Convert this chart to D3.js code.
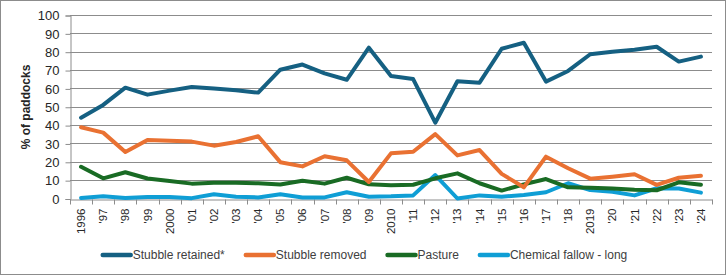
<!DOCTYPE html>
<html>
<head>
<meta charset="utf-8">
<script src="https://cdn.jsdelivr.net/npm/d3@7"></script>
<style>
  html, body { margin: 0; padding: 0; background: #fff; }
  svg { display: block; }
  text { font-family: "Liberation Sans", Arial, sans-serif; }
</style>
</head>
<body>
<svg id="chart" width="727" height="276"></svg>
<script>
const years = ["1996","'97","'98","'99","2000","'01","'02","'03","'04","'05","'06","'07","'08","'09","2010","'11","'12","'13","'14","'15","'16","'17","'18","2019","'20","'21","'22","'23","'24"];
const stubbleRetained = [44.0,51.0,60.4,56.6,58.8,60.8,60.0,59.0,57.7,70.2,73.0,68.2,64.7,82.2,66.8,65.1,41.3,63.9,63.1,81.6,84.9,63.7,69.5,78.6,80.0,81.1,82.7,74.6,77.3];
const stubbleRemoved = [38.8,35.9,25.3,31.9,31.5,31.0,28.8,30.8,33.9,19.8,17.5,23.0,20.8,9.0,24.6,25.5,35.1,23.5,26.4,13.4,6.1,22.8,16.5,10.8,11.9,13.2,7.4,11.3,12.4];
const pasture = [17.3,11.0,14.3,10.9,9.5,8.1,8.6,8.6,8.3,7.6,9.7,8.1,11.3,7.7,7.2,7.5,11.0,13.7,8.3,4.3,7.7,10.6,6.1,5.9,5.4,4.8,4.5,8.8,7.5];
const chemicalFallow = [0.3,1.2,0.3,0.8,0.8,0.2,2.3,1.0,0.6,2.3,0.6,0.6,3.4,1.0,1.2,1.7,12.8,0.0,1.7,1.0,1.9,3.4,8.3,4.6,3.7,1.7,5.6,5.4,3.2];
const yTicks = [0,10,20,30,40,50,60,70,80,90,100];
const seriesNames = ["Stubble retained*","Stubble removed","Pasture","Chemical fallow - long"];
const seriesColors = ["#156082","#E97132","#196B24","#0F9ED5"];
const seriesData = [stubbleRetained, stubbleRemoved, pasture, chemicalFallow];

(function () {
const svg = d3.select("#chart");
const pLeft = 70, pRight = 712, pTop = 15, pBottom = 198.5;

svg.append("rect").attr("x",0.5).attr("y",0.5).attr("width",725).attr("height",274)
  .attr("fill","#fff").attr("stroke","#8c8c8c").attr("stroke-width",1);

const x = d3.scaleBand().domain(years).range([pLeft, pRight]).padding(0);
const y = d3.scaleLinear().domain([0,100]).range([pBottom, pTop]);

// gridlines
svg.append("g").selectAll("line").data(yTicks.filter(d => d > 0)).join("line")
  .attr("x1", pLeft).attr("x2", pRight)
  .attr("y1", d => Math.round(y(d)) + 0.5).attr("y2", d => Math.round(y(d)) + 0.5)
  .attr("stroke", "#8c8c8c").attr("stroke-width", 1);

// y axis
const yAxis = d3.axisLeft(y).tickValues(yTicks).tickSize(5).tickPadding(6);
const gy = svg.append("g").attr("transform", `translate(${pLeft + 0.5},0.5)`).call(yAxis);
gy.select(".domain").attr("stroke", "#8c8c8c");
gy.selectAll(".tick line").attr("stroke", "#8c8c8c");
gy.selectAll(".tick text").attr("font-size", 13).attr("fill", "#262626")
  .attr("font-family", "Liberation Sans, Arial, sans-serif");

// x axis
const xAxis = d3.axisBottom(x).tickSize(0).tickPadding(0);
const gx = svg.append("g").attr("transform", `translate(0,${Math.round(pBottom)+0.5})`).call(xAxis);
gx.select(".domain").attr("stroke", "#8c8c8c");
gx.selectAll(".tick text")
  .attr("font-size", 11.5).attr("fill", "#262626")
  .attr("font-family", "Liberation Sans, Arial, sans-serif")
  .attr("transform", "rotate(-90)")
  .attr("text-anchor", "end")
  .attr("dy", "0.35em")
  .attr("x", -9).attr("y", 0);
// boundary tick marks
const bounds = years.map(d => x(d)).concat([pRight]);
gx.append("g").selectAll("line").data(bounds).join("line")
  .attr("x1", d => Math.round(d) + 0.5).attr("x2", d => Math.round(d) + 0.5)
  .attr("y1", 0).attr("y2", 5).attr("stroke", "#8c8c8c");

// y title
svg.append("text")
  .attr("transform", `translate(30,107) rotate(-90)`)
  .attr("text-anchor", "middle")
  .attr("font-size", 12).attr("font-weight", "bold").attr("fill", "#262626")
  .text("% of paddocks");

// lines
const line = d3.line().x((d,i) => x(years[i]) + x.bandwidth()/2).y(d => y(d));
const order = [3,2,1,0];
svg.append("g").selectAll("path").data(order).join("path")
  .attr("d", i => line(seriesData[i]))
  .attr("fill", "none")
  .attr("stroke", i => seriesColors[i])
  .attr("stroke-width", 4)
  .attr("stroke-linejoin", "round")
  .attr("stroke-linecap", "round");

// legend
const lg = svg.append("g");
const items = seriesNames.map((n, i) => {
  const g = lg.append("g");
  g.append("line").attr("x1", 0).attr("x2", 28).attr("y1", 0).attr("y2", 0)
    .attr("stroke", seriesColors[i]).attr("stroke-width", 4.5).attr("stroke-linecap", "round");
  const t = g.append("text").attr("x", 30).attr("y", 0).attr("dy", "0.35em")
    .attr("font-size", 12).attr("fill", "#404040").text(n);
  return {g, w: 30 + t.node().getComputedTextLength()};
});
const gap = 21;
const total = items.reduce((s, it) => s + it.w, 0) + gap * (items.length - 1);
let cx = 365 - total / 2;
items.forEach(it => { it.g.attr("transform", `translate(${cx},255)`); cx += it.w + gap; });
})();
</script>
</body>
</html>
